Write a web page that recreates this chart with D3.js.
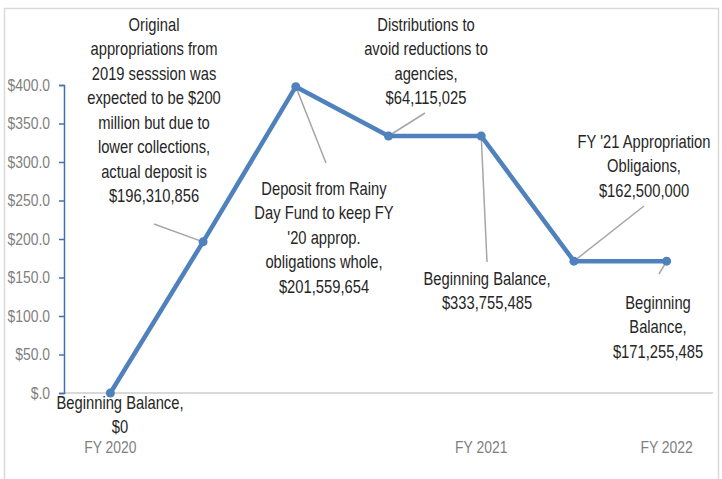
<html>
  <head>
    <style>
      body { margin: 0; background: #fff; }
      svg text {
        font-family: "Liberation Sans", Arial, sans-serif;
      }
      .note { font-size: 18px; fill: #262626; }
      .tick-label { font-size: 17px; fill: #7f7f7f; }
    </style>
    <script src="https://cdnjs.cloudflare.com/ajax/libs/d3/7.8.5/d3.min.js"></script>
  </head>
  <body>
    <script>
      // Data (millions of dollars)
      var steps = ["s0", "s1", "s2", "s3", "s4", "s5", "s6"];
      var balance = [0, 196.310856, 397.87051, 333.755485, 333.755485, 171.255485, 171.255485];
      var yearLabels = ["FY 2020", "", "", "", "FY 2021", "", "FY 2022"];
      var yTicks = [0, 50, 100, 150, 200, 250, 300, 350, 400];
      var notes = [
        ["Original", "appropriations from", "2019 sesssion was", "expected to be $200", "million but due to", "lower collections,", "actual deposit is", "$196,310,856"],
        ["Deposit from Rainy", "Day Fund to keep FY", "'20 approp.", "obligations whole,", "$201,559,654"],
        ["Distributions to", "avoid reductions to", "agencies,", "$64,115,025"],
        ["Beginning Balance,", "$333,755,485"],
        ["FY '21 Appropriation", "Obligaions,", "$162,500,000"],
        ["Beginning", "Balance,", "$171,255,485"],
        ["Beginning Balance,", "$0"]
      ];
      // which point each note belongs to, and where its text block sits
      var noteFor = [1, 2, 3, 4, 5, 6, 0];
      var noteX = [154, 324, 426, 487, 644, 658, 120];
      var noteTop = [31, 195, 31, 285, 148, 309, 409];
      var leaderEnd = [[154, 224], [326, 163], [425, 113], [487, 262], [644, 206], [659, 274], null];

      var SQ = 0.82; // horizontal squeeze to mimic a condensed face

      var W = 722, H = 479;
      var svg = d3.select("body").append("svg")
        .attr("width", W)
        .attr("height", H);

      // outer frame
      svg.append("rect")
        .attr("x", 4.5).attr("y", 8.5)
        .attr("width", 714).attr("height", 478)
        .attr("fill", "none")
        .attr("stroke", "#d9d9d9")
        .attr("stroke-width", 1.5);

      var x = d3.scaleBand().domain(steps).range([64, 713]);
      var y = d3.scaleLinear().domain([0, 400]).range([393, 85]);
      var cx = function(i) { return x(steps[i]) + x.bandwidth() / 2; };

      // zero line
      svg.append("line")
        .attr("x1", 64).attr("x2", 713)
        .attr("y1", y(0)).attr("y2", y(0))
        .attr("stroke", "#d9d9d9").attr("stroke-width", 2);

      // y axis
      var yAxis = svg.append("g")
        .attr("transform", "translate(64,0)")
        .attr("font-size", null).attr("font-family", null)
        .call(d3.axisLeft(y).tickValues(yTicks).tickSize(5).tickPadding(9)
          .tickFormat(function(d) { return "$" + (d === 0 ? "" : d) + ".0"; }));
      yAxis.attr("font-size", null).attr("font-family", null);
      yAxis.select(".domain").attr("stroke", "#4472a8").attr("stroke-width", 1.5);
      yAxis.selectAll(".tick line").attr("stroke", "#4472a8").attr("stroke-width", 1.5);
      yAxis.selectAll(".tick text")
        .attr("class", "tick-label")
        .attr("x", -14 / SQ)
        .attr("transform", "scale(" + SQ + ",1)");

      // category labels
      svg.selectAll(".year")
        .data(yearLabels)
        .enter().append("text")
        .attr("class", "tick-label")
        .attr("text-anchor", "middle")
        .attr("transform", function(d, i) { return "translate(" + cx(i) + ",453) scale(" + SQ + ",1)"; })
        .text(function(d) { return d; });

      // leader lines
      svg.selectAll(".leader")
        .data(noteFor.filter(function(p, i) { return leaderEnd[i]; }))
        .enter().append("line")
        .attr("x1", function(p) { return cx(p); })
        .attr("y1", function(p) { return y(balance[p]); })
        .attr("x2", function(p, i) { return leaderEnd[i][0]; })
        .attr("y2", function(p, i) { return leaderEnd[i][1]; })
        .attr("stroke", "#a6a6a6").attr("stroke-width", 1.5);

      // the balance line
      var line = d3.line()
        .x(function(d, i) { return cx(i); })
        .y(function(d) { return y(d); });
      svg.append("path")
        .datum(balance)
        .attr("d", line)
        .attr("fill", "none")
        .attr("stroke", "#4f81bd")
        .attr("stroke-width", 4.5)
        .attr("stroke-linejoin", "round");
      svg.selectAll(".dot")
        .data(balance)
        .enter().append("circle")
        .attr("cx", function(d, i) { return cx(i); })
        .attr("cy", function(d) { return y(d); })
        .attr("r", 4.5)
        .attr("fill", "#4f81bd");

      // annotation text
      notes.forEach(function(lines, k) {
        var t = svg.append("text")
          .attr("class", "note")
          .attr("text-anchor", "middle")
          .attr("transform", "translate(" + noteX[k] + "," + noteTop[k] + ") scale(" + SQ + ",1)");
        lines.forEach(function(s, j) {
          t.append("tspan")
            .attr("x", 0)
            .attr("y", j * 24.5)
            .text(s);
        });
      });
    </script>
  </body>
</html>
